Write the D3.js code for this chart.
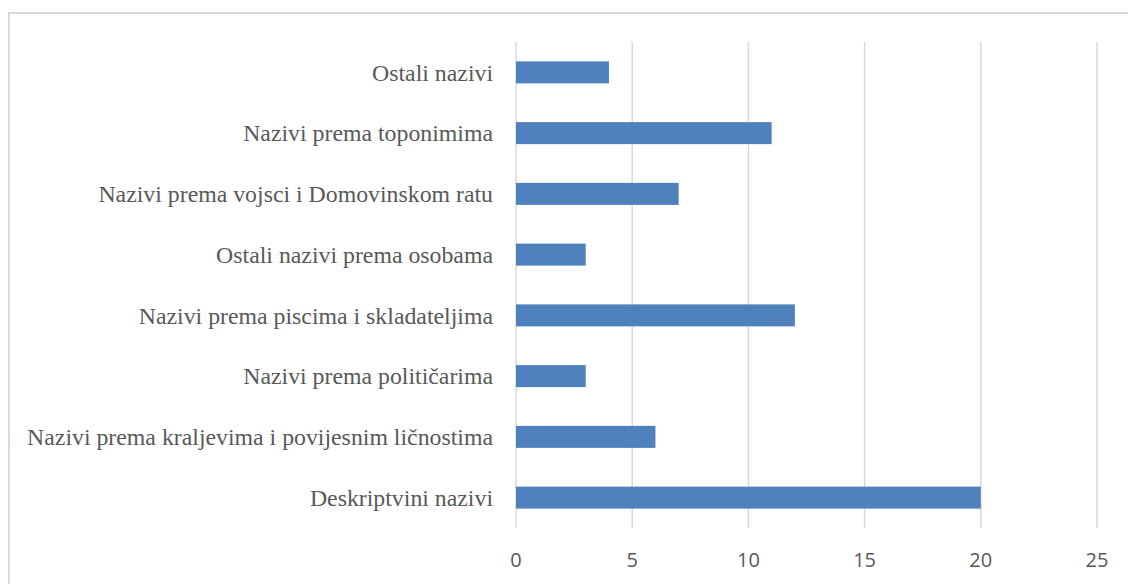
<!DOCTYPE html>
<html>
<head>
<meta charset="utf-8">
<script src="https://cdn.jsdelivr.net/npm/d3@7"></script>
<style>
  body { margin: 0; background: #fff; }
</style>
</head>
<body>
<div class="main"></div>
<script>
var categories = [
    'Ostali nazivi',
    'Nazivi prema toponimima',
    'Nazivi prema vojsci i Domovinskom ratu',
    'Ostali nazivi prema osobama',
    'Nazivi prema piscima i skladateljima',
    'Nazivi prema političarima',
    'Nazivi prema kraljevima i povijesnim ličnostima',
    'Deskriptvini nazivi'
];
var values = [4, 11, 7, 3, 12, 3, 6, 20];
var xTicks = [0, 5, 10, 15, 20, 25];

var svg = d3.select('.main')
    .append('svg')
    .attr('width', 1128)
    .attr('height', 584);

// chart frame
svg.append('rect')
    .attr('x', 9)
    .attr('y', 13)
    .attr('width', 1140)
    .attr('height', 600)
    .style('fill', '#fff')
    .style('stroke', '#d9d9d9')
    .style('stroke-width', 2);

var x = d3.scaleLinear().domain([0, 25]).range([516, 1097]);
var y = d3.scaleBand()
    .domain(categories)
    .range([42, 528])
    .paddingInner(0.638)
    .paddingOuter(0.319);

// gridlines
svg.selectAll('.grid')
    .data(xTicks)
    .enter()
    .append('line')
    .attr('class', 'grid')
    .attr('x1', function (d) { return x(d); })
    .attr('x2', function (d) { return x(d); })
    .attr('y1', 42)
    .attr('y2', 528)
    .style('stroke', '#d9d9d9')
    .style('stroke-width', '1.5px');

svg.selectAll('.bar')
    .data(values)
    .enter()
    .append('rect')
    .attr('class', 'bar')
    .attr('x', x(0))
    .attr('y', function (d, i) { return y(categories[i]); })
    .attr('width', function (d) { return x(d) - x(0); })
    .attr('height', y.bandwidth())
    .style('fill', '#4f81bd');

// category labels
var cats = svg.selectAll('.cat')
    .data(categories)
    .enter()
    .append('text')
    .attr('class', 'cat')
    .attr('x', 493)
    .attr('y', function (d) { return y(d) + y.bandwidth() / 2; })
    .attr('dy', '0.35em')
    .attr('text-anchor', 'end')
    .style('font-family', '"Liberation Serif", "DejaVu Serif", serif')
    .style('font-size', '20px')
    .style('fill', '#595959')
    .text(function (d) { return d; });

// fit the longest label to the width seen in the picture (~466px)
var longest = d3.max(cats.nodes(), function (n) { return n.getComputedTextLength(); });
var fs = Math.min(24, 20 * 466 / longest);
cats.style('font-size', fs + 'px');

// x tick labels
svg.selectAll('.tick-label')
    .data(xTicks)
    .enter()
    .append('text')
    .attr('class', 'tick-label')
    .attr('x', function (d) { return x(d); })
    .attr('y', 560)
    .attr('dy', '0.35em')
    .attr('text-anchor', 'middle')
    .style('font-family', '"Open Sans", "Liberation Sans", sans-serif')
    .style('font-size', '20px')
    .style('fill', '#595959')
    .text(function (d) { return d; });
</script>
</body>
</html>
